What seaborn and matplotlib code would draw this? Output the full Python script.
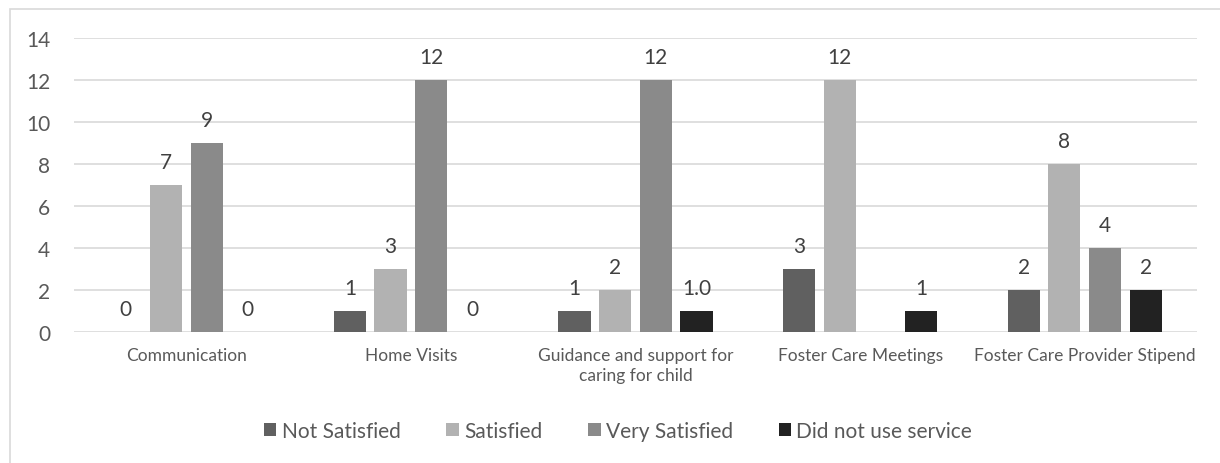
import matplotlib
matplotlib.use("Agg")
import matplotlib.pyplot as plt
from matplotlib.patches import Rectangle
import seaborn as sns
import pandas as pd
import numpy as np

# Survey responses per service
categories = [
    "Communication",
    "Home Visits",
    "Guidance and support for\ncaring for child",
    "Foster Care Meetings",
    "Foster Care Provider Stipend",
]
series = ["Not Satisfied", "Satisfied", "Very Satisfied", "Did not use service"]
not_satisfied = [0, 1, 1, 3, 2]
satisfied = [7, 3, 2, 12, 8]
very_satisfied = [9, 12, 12, None, 4]
did_not_use = [0, 0, 1.0, 1, 2]
# one data label is shown with a decimal place
label_decimals = {(categories[2], "Did not use service"): 1}

colors = ["#606060", "#b2b2b2", "#8a8a8a", "#222222"]
y_ticks = [0, 2, 4, 6, 8, 10, 12, 14]

rows = []
for s, vals in zip(series, [not_satisfied, satisfied, very_satisfied, did_not_use]):
    for c, v in zip(categories, vals):
        if v is not None:
            rows.append({"Service": c, "Response": s, "Count": v})
df = pd.DataFrame(rows)

sns.set_theme(style="white")
plt.rcParams["font.family"] = ["Lato", "DejaVu Sans"]

fig = plt.figure(figsize=(12.2, 4.64), dpi=100)
ax = fig.add_axes([74 / 1220, 131 / 464, 1123 / 1220, 294 / 464])

sns.barplot(
    data=df, x="Service", y="Count", hue="Response",
    order=categories, hue_order=series, palette=colors,
    width=0.725, gap=0.21, linewidth=0, saturation=1,
    errorbar=None, ax=ax,
)

# value labels above each bar
for s, cont in zip(series, ax.containers):
    sub = df[df["Response"] == s]
    labels = []
    for _, r in sub.iterrows():
        d = label_decimals.get((r["Service"], s), 0)
        labels.append(f"{r['Count']:.{d}f}")
    ax.bar_label(cont, labels=labels, padding=9, fontsize=15, color="#404040")

ax.set_ylim(0, 14)
ax.set_yticks(y_ticks)
ax.set_xlim(-0.5, len(categories) - 0.5)
ax.yaxis.grid(True, color="#d9d9d9", linewidth=1.2)
ax.set_axisbelow(True)
for side in ["top", "right", "left", "bottom"]:
    ax.spines[side].set_visible(False)
ax.tick_params(axis="y", length=0, labelsize=15, labelcolor="#595959", pad=17)
ax.tick_params(axis="x", length=0, labelsize=12.5, labelcolor="#595959", pad=11)
for t in ax.get_xticklabels():
    t.set_linespacing(1.3)
ax.set_xlabel("")
ax.set_ylabel("")

leg = ax.legend(
    loc="center", bbox_to_anchor=(0.5 + (618 - 635.5) / 1123, (464 - 432 - 131) / 294),
    ncol=4, frameon=False, fontsize=15, handlelength=0.6, handleheight=0.6,
    handletextpad=0.25, columnspacing=2.2, labelcolor="#595959",
)

# outer chart frame
fig.patches.append(Rectangle((10 / 1220, -0.05), 1.2, (454 / 464) + 0.05,
                             transform=fig.transFigure, fill=False,
                             edgecolor="#d9d9d9", linewidth=1.2))

fig.savefig("out.png", dpi=100)
